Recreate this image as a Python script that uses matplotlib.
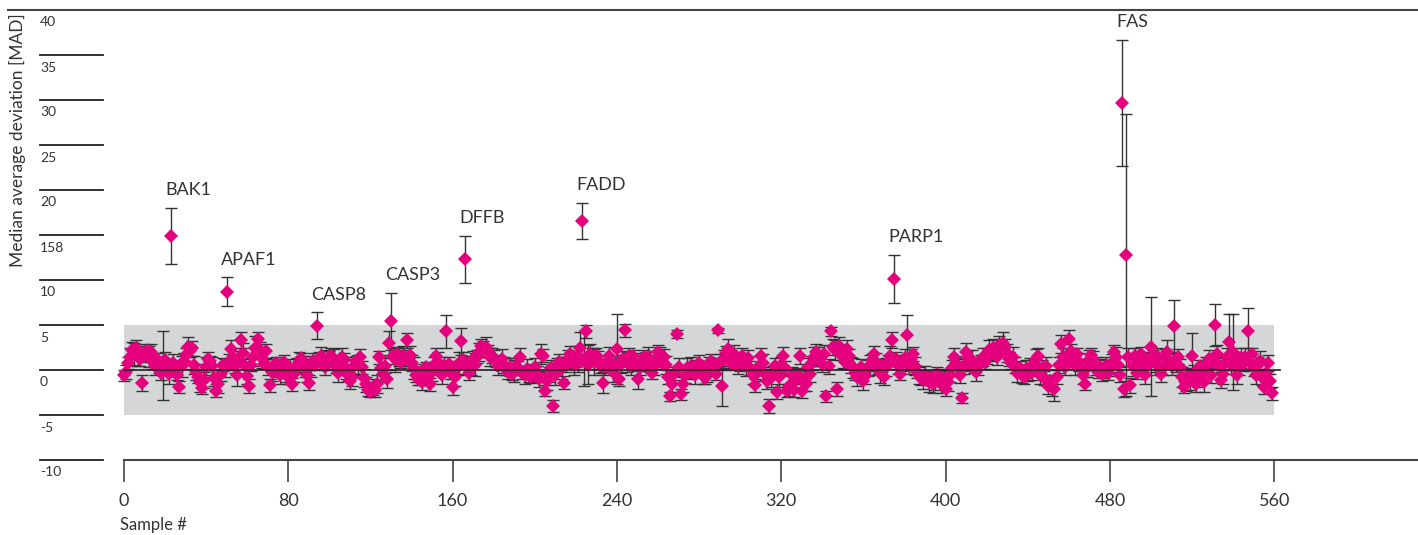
import numpy as np
import matplotlib
matplotlib.use("Agg")
import matplotlib.pyplot as plt
from matplotlib.transforms import blended_transform_factory

plt.rcParams['font.family'] = ['Lato', 'DejaVu Sans']

# median average deviation per sample
mad = [
    -0.6, -0.2, 0.8, 1.5, 2.2, 1.8, 2.5, 1.6, 1.2, -1.4, 1.9, 2.1, 1.5, 2.0, 0.9, 0.4, 1.2, 0.6, -0.3, 0.5,
    1.1, 0.2, -0.4, 14.9, 0.8, 0.3, -0.5, -1.9, 0.4, 1.0, 1.7, 2.6, 2.1, 2.4, 0.6, -0.2, -0.8, -1.3, -2.0, -1.1,
    0.3, 1.2, 1.0, 0.5, -0.9, -2.3, -1.5, -0.4, 0.6, 0.2, 8.7, 0.9, 2.3, 1.4, 0.5, -0.6, 1.1, 3.3, 1.9, 0.4,
    -0.7, -1.8, 0.6, 1.4, 2.5, 3.4, 2.2, 1.3, 0.7, 2.1, 0.3, -1.7, -0.2, 0.4, 0.8, 0.1, -0.5, 0.3, 0.9, -0.3,
    -0.8, 0.2, -1.6, -0.4, 0.5, 0.9, 1.3, 0.7, 0.2, -0.6, -1.4, 0.4, 1.0, 0.6, 4.9, 1.2, 1.6, 0.8, 0.3, 1.1,
    1.4, 1.6, 1.2, 0.5, -0.3, 0.8, 1.5, 1.1, 0.2, -0.5, -1.2, -0.8, 0.4, 1.0, 0.6, 1.4, 0.3, -0.9, -1.6, -2.2,
    -2.4, -1.9, -2.2, -1.5, 1.4, 0.2, -0.4, 0.5, -1.0, 3.0, 5.4, 1.6, 1.2, 1.8, 1.5, 0.9, 1.6, 1.3, 3.3, 1.7,
    0.8, 0.2, -0.5, -1.0, -0.7, -1.3, -0.4, 0.3, -0.9, -1.6, -0.2, 0.6, 1.6, 0.9, 0.1, -0.6, 0.4, 4.3, 0.7, -0.3,
    -1.9, -0.8, 0.2, 0.8, 3.2, 1.1, 12.3, 0.4, -0.3, 0.5, 1.2, 0.6, 1.5, 2.0, 2.7, 2.3, 2.6, 2.1, 1.4, 1.6,
    1.3, 1.0, 0.5, 0.8, 1.2, 0.6, 0.1, -0.2, 0.3, -0.4, -0.1, 0.4, 0.2, 1.4, -0.3, -0.6, 0.1, -0.5, -0.8, -0.2,
    0.3, -0.4, -1.0, 1.8, 1.6, -2.3, -1.2, -0.5, 0.2, -4.0, -0.6, 0.5, 0.9, 0.2, -1.4, 0.6, 1.2, 1.8, 1.0, 0.7,
    1.5, 0.8, 2.4, 16.6, 1.2, 4.3, 0.6, 1.8, 1.5, 0.9, 1.7, 1.1, 0.4, -1.4, 0.3, 0.8, 1.6, 0.5, -0.2, 0.6,
    2.3, -1.0, 0.7, 1.2, 4.4, 0.9, 1.6, 0.4, 1.6, 0.8, -1.0, 0.2, 0.9, 1.5, 1.1, 1.4, 0.6, -0.3, 0.4, 1.2,
    2.0, 1.5, 0.8, 1.4, 0.6, -0.8, -2.9, -1.5, -0.4, 4.0, 0.3, -2.7, -1.6, -0.5, 0.2, -0.3, 0.5, 0.1, -0.6, 0.4,
    0.8, 0.2, -0.5, -0.9, -0.2, 0.6, 1.0, 0.3, -0.4, 4.4, 0.9, -1.8, 1.2, 1.9, 2.3, 1.4, 0.7, 1.8, 1.2, 0.5,
    0.9, 1.6, 1.1, 0.4, 1.3, 0.2, -0.6, -1.7, -0.3, 0.5, 1.6, 0.8, -0.4, -1.2, -4.0, -0.9, -0.2, 0.4, -2.4, -0.8,
    0.6, 1.6, 0.2, -2.3, -1.8, -0.6, -2.2, -1.1, -0.5, 1.6, -2.3, -1.2, -1.6, 0.3, -0.4, 0.8, 1.5, 2.0, 1.6, 1.2,
    0.7, 1.8, -2.9, 0.4, 4.3, 2.6, 2.2, -2.1, 2.7, 2.0, 1.4, 0.9, 2.3, 1.6, 0.6, 0.2, -0.3, -0.8, -0.4, 0.3,
    -1.2, -0.7, 0.2, 0.6, 1.1, 1.8, 0.9, 0.4, -0.3, 0.5, -0.8, 0.3, 0.9, 1.6, 3.3, 10.1, 1.2, 0.6, -0.4, 0.8,
    1.3, 3.9, 0.5, 1.2, 1.8, 0.4, -0.2, -0.6, -0.9, -1.1, -0.5, -0.8, -1.3, -0.9, -1.6, -1.2, -0.4, -0.7, -1.5, -1.0,
    -2.1, -1.3, -0.6, 0.2, 1.4, 0.8, 0.3, -0.5, -3.1, 0.4, 2.0, 1.3, 0.6, 1.1, 0.5, -0.2, 0.4, 1.0, 1.5, 0.9,
    1.6, 2.2, 1.8, 2.4, 2.0, 1.5, 2.8, 2.5, 3.0, 2.6, 1.9, 1.2, 0.8, 1.5, 0.6, -0.3, 0.2, -0.5, -0.8, 0.1,
    -0.4, 0.3, -0.2, 0.5, 1.2, 1.6, -0.5, 0.2, -0.9, 0.4, -1.8, -1.2, -1.9, -2.1, -0.8, 0.6, 2.9, 1.4, 0.3, 1.0,
    3.4, 2.1, 1.3, 0.6, 1.8, 0.9, 0.3, -0.6, -1.5, 0.2, 1.1, 1.7, 1.2, 0.4, -0.2, 0.3, -0.4, 0.1, 0.5, -0.3,
    0.2, 0.8, 2.0, 1.5, 0.6, -0.5, 29.7, -2.1, 12.8, 1.4, -1.7, 0.4, 1.6, -0.3, 0.9, 1.8, 0.7, -0.6, 0.5, 1.2,
    2.6, 1.3, 0.8, 1.6, 0.5, -0.4, 0.2, 1.3, 2.0, 1.1, 0.4, 4.9, 0.8, 1.5, 0.3, -0.8, -1.9, -1.4, -0.6, -1.2,
    1.6, -0.3, -1.6, -0.9, 0.4, -0.2, -1.3, 0.6, 1.2, -0.5, 0.9, 5.0, 1.8, 0.5, -1.1, -0.4, 0.8, 1.5, 3.1, 0.6,
    2.0, 1.2, -0.6, 0.4, 1.3, 0.7, 1.5, 4.3, 0.9, 1.8, 0.2, -0.5, 0.6, 1.0, -0.8, -1.9, -0.3, 0.8, -1.2, -2.6,
]

mad_err = [
    0.6, 0.8, 0.7, 1.0, 0.9, 1.2, 0.8, 1.1, 0.7, 0.9, 1.0, 0.6, 1.2, 0.9, 0.8, 1.0, 0.7, 0.9, 0.8, 3.8,
    0.9, 0.7, 1.1, 3.1, 1.0, 0.8, 0.6, 0.7, 1.2, 0.9, 0.8, 1.1, 0.7, 0.8, 1.0, 0.9, 0.6, 1.1, 0.7, 0.9,
    1.2, 0.8, 0.6, 1.0, 0.9, 0.7, 1.1, 0.8, 0.7, 1.0, 1.6, 0.9, 1.0, 0.7, 0.8, 1.2, 0.6, 0.9, 1.1, 0.8,
    0.9, 0.8, 0.7, 1.0, 1.3, 0.8, 0.9, 1.1, 0.6, 0.8, 0.9, 0.7, 1.0, 0.8, 0.6, 0.9, 1.1, 0.7, 0.8, 1.0,
    0.8, 1.0, 0.7, 0.9, 0.8, 1.1, 0.6, 0.9, 1.0, 0.7, 0.8, 1.2, 0.9, 0.6, 1.5, 0.8, 1.0, 0.7, 0.9, 1.1,
    0.7, 0.9, 1.1, 0.8, 1.0, 0.6, 0.9, 0.8, 1.2, 0.7, 0.9, 1.0, 0.8, 0.6, 1.1, 0.9, 0.7, 1.0, 0.8, 0.7,
    0.6, 0.9, 0.8, 1.0, 0.7, 1.3, 0.9, 0.8, 1.0, 1.3, 3.2, 0.9, 1.4, 0.8, 1.0, 0.7, 1.1, 0.9, 0.8, 1.0,
    0.9, 1.2, 0.8, 0.7, 1.0, 0.9, 1.1, 0.6, 0.8, 0.7, 1.0, 0.9, 0.8, 1.1, 0.7, 0.9, 1.0, 1.8, 0.8, 0.7,
    0.9, 1.0, 0.8, 1.2, 1.5, 0.9, 2.6, 1.0, 0.8, 1.1, 0.9, 1.3, 0.7, 1.0, 0.8, 0.9, 1.1, 0.7, 1.0, 0.8,
    0.9, 0.7, 1.0, 0.8, 1.1, 0.9, 0.6, 0.8, 1.0, 0.7, 1.2, 0.9, 0.8, 1.0, 0.7, 0.9, 1.1, 0.8, 0.6, 0.9,
    1.0, 0.8, 0.9, 1.1, 0.7, 0.6, 1.0, 0.8, 0.9, 0.7, 1.1, 0.8, 0.9, 1.2, 0.7, 0.8, 1.0, 0.9, 0.6, 1.3,
    1.2, 1.0, 1.8, 2.0, 3.0, 0.7, 2.2, 1.1, 0.9, 1.4, 0.8, 1.0, 0.7, 1.2, 0.9, 0.8, 1.0, 0.7, 1.1, 0.9,
    3.9, 0.8, 1.0, 0.9, 0.7, 1.1, 0.8, 1.0, 0.6, 0.9, 1.1, 0.8, 1.0, 0.7, 0.9, 1.2, 0.8, 0.7, 1.0, 0.9,
    0.8, 1.1, 0.7, 0.9, 1.0, 0.8, 0.5, 0.9, 0.7, 0.4, 1.0, 0.6, 0.8, 0.9, 1.1, 0.7, 0.9, 0.8, 1.0, 0.7,
    0.9, 0.8, 1.0, 0.7, 1.1, 0.9, 0.8, 1.0, 0.7, 0.3, 0.9, 2.2, 1.0, 0.8, 1.1, 0.9, 0.7, 1.0, 0.8, 0.9,
    1.0, 0.8, 0.7, 1.1, 0.9, 0.8, 1.0, 0.7, 0.9, 1.1, 0.8, 1.0, 0.7, 0.9, 0.8, 1.0, 0.6, 0.9, 0.8, 1.1,
    0.9, 1.0, 0.8, 0.7, 1.1, 0.9, 0.8, 1.0, 0.7, 0.9, 0.8, 1.1, 0.7, 1.0, 0.9, 0.8, 1.1, 0.9, 1.0, 0.8,
    0.9, 1.0, 0.6, 0.8, 0.5, 0.9, 1.1, 0.8, 1.0, 0.9, 1.2, 0.8, 1.0, 0.7, 0.9, 1.1, 0.8, 1.0, 0.7, 0.9,
    1.0, 0.8, 0.9, 1.1, 0.7, 0.9, 1.0, 0.8, 1.1, 0.7, 0.9, 1.0, 0.8, 1.1, 0.9, 2.7, 0.8, 1.0, 0.7, 0.9,
    1.0, 2.2, 0.9, 1.1, 0.8, 1.0, 0.7, 0.9, 0.8, 1.0, 0.9, 0.7, 1.1, 0.8, 0.9, 1.0, 0.7, 0.8, 1.0, 0.9,
    0.8, 1.0, 0.7, 0.9, 1.1, 0.8, 1.0, 0.9, 0.6, 0.8, 1.0, 0.9, 0.7, 1.1, 0.8, 1.0, 0.9, 0.7, 1.0, 0.8,
    0.9, 1.1, 0.8, 1.0, 0.7, 0.9, 1.0, 0.8, 1.2, 0.9, 1.0, 0.8, 0.7, 1.1, 0.9, 1.0, 0.8, 0.9, 0.7, 1.0,
    0.8, 1.0, 0.9, 0.7, 1.1, 0.8, 1.0, 0.9, 0.8, 1.0, 0.9, 0.7, 1.0, 1.3, 0.8, 0.9, 1.0, 1.1, 0.8, 0.9,
    1.0, 0.8, 0.9, 1.1, 0.7, 1.0, 0.8, 0.9, 0.7, 1.0, 1.1, 0.8, 0.9, 1.0, 0.7, 0.9, 0.8, 1.0, 0.9, 0.8,
    0.9, 1.0, 0.8, 1.1, 0.9, 0.8, 7.0, 0.9, 15.7, 1.0, 0.8, 1.1, 0.9, 0.7, 1.0, 0.8, 1.2, 0.9, 1.0, 0.8,
    5.5, 0.9, 1.0, 0.8, 1.1, 0.9, 0.7, 1.0, 1.3, 0.8, 0.9, 2.9, 1.0, 0.8, 0.9, 1.1, 0.7, 0.9, 0.8, 1.0,
    2.5, 0.9, 0.8, 1.0, 0.7, 0.9, 1.1, 0.8, 1.0, 0.9, 0.7, 2.3, 1.0, 0.8, 0.9, 1.1, 0.8, 0.9, 3.1, 1.0,
    4.2, 0.8, 1.0, 0.9, 1.1, 0.8, 0.9, 2.6, 1.0, 0.7, 0.9, 1.0, 0.8, 1.1, 0.9, 0.8, 1.0, 0.9, 0.8, 0.7,
]

gene_names = ['BAK1', 'APAF1', 'CASP8', 'CASP3', 'DFFB', 'FADD', 'PARP1', 'FAS']
gene_idx = [23, 50, 94, 130, 166, 223, 375, 486]

x_ticks = [0, 80, 160, 240, 320, 400, 480, 560]
y_ticks = [-10, -5, 0, 5, 10, 15, 20, 25, 30, 35, 40]
y_tick_labels = ['-10', '-5', '0', '5', '10', '158', '20', '25', '30', '35', '40']
band_lo, band_hi = -5, 5

samples = np.arange(len(mad))
mad = np.array(mad)
mad_err = np.array(mad_err)

W, H = 1418, 535
fig = plt.figure(figsize=(W / 100, H / 100), dpi=100)
ax = fig.add_axes([124 / W, (H - 460) / H, 1 - 124 / W, 450 / H])
ax.set_xlim(0, (W - 124) / 2.054)
ax.set_ylim(-10, 40)

pink = '#e5007d'
dark = '#333333'

ax.fill_between([0, 560], band_lo, band_hi, color='#d5d6d8', lw=0, zorder=0)
ax.errorbar(samples, mad, yerr=mad_err, fmt='none', ecolor=dark, elinewidth=1,
            capsize=4.5, capthick=1, zorder=2, clip_on=False)
ax.plot(samples, mad, 'D', color=pink, ms=7.5, mew=0, zorder=3, clip_on=False)
ax.plot([0, 563], [0, 0], color='#2a1a22', lw=1.2, zorder=4)

for name, i in zip(gene_names, gene_idx):
    ax.annotate(name, (samples[i], mad[i] + mad_err[i]), xytext=(-4, 7),
                textcoords='offset points', ha='left', va='bottom',
                fontsize=13, color=dark)

# axes styling
for s in ['left', 'right', 'top']:
    ax.spines[s].set_visible(False)
ax.spines['bottom'].set_color('#444444')
ax.spines['bottom'].set_linewidth(1.5)
ax.set_yticks([])
ax.set_xticks(x_ticks)
ax.tick_params(axis='x', direction='out', length=16, width=1.2, color='#444444',
               pad=8, labelsize=13, labelcolor=dark)
fig.text(120 / W, 1 - 525 / H, 'Sample #', ha='left', va='center', fontsize=12, color=dark)

# y scale drawn as separate lines left of the plot
trans = blended_transform_factory(fig.transFigure, ax.transData)
for v, lab in zip(y_ticks, y_tick_labels):
    if v == 40:
        ax.plot([8 / W, 1], [v, v], color='#444444', lw=1.5, transform=trans, clip_on=False)
    else:
        ax.plot([40 / W, 103 / W], [v, v], color='#222222', lw=1.3, transform=trans, clip_on=False)
    ax.annotate(lab, (40 / W, v), xycoords=trans, xytext=(0, -9), textcoords='offset points',
                ha='left', va='center', fontsize=10, color=dark)

fig.text(17 / W, 1 - 140 / H, 'Median average deviation [MAD]', rotation=90,
         ha='center', va='center', fontsize=12.5, color=dark)

fig.savefig('out.png', dpi=100)
